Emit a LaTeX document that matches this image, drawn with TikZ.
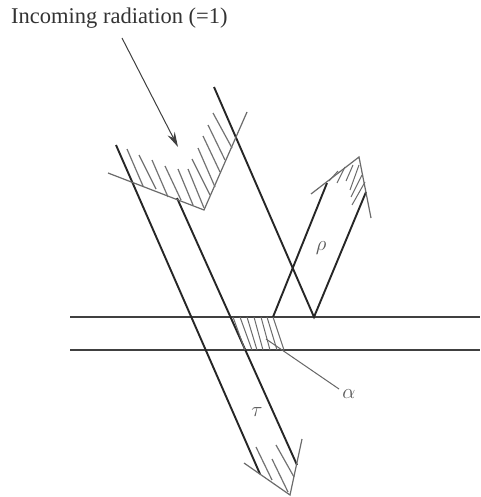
\documentclass[tikz,border=0pt]{standalone}
\usepackage{fontspec}
\setmainfont{Liberation Serif}
\usetikzlibrary{arrows.meta}
\tikzset{
  beam/.style={line width=1.9pt,color=black!85},
  plate/.style={line width=1.9pt,color=black!75},
  front/.style={line width=1.2pt,color=black!58},
  hatch/.style={line width=1.2pt,color=black!55},
  finehatch/.style={line width=1pt,color=black!58},
  sym/.style={inner sep=0pt,font=\fontsize{21}{21}\selectfont,color=black!65}
}
\begin{document}
\begin{tikzpicture}[x=1pt,y=-1pt]
\useasboundingbox (0,0) rectangle (480,497);
\fill[white] (0,0) rectangle (480,497);
% plate
\draw[plate] (70,317) -- (480,317);
\draw[plate] (70,350) -- (480,350);
% beams
\coordinate (a0) at (116,145); \coordinate (a1) at (260,474);
\coordinate (b0) at (177,198); \coordinate (b1) at (297,465);
\coordinate (c0) at (214,87);  \coordinate (c1) at (314,317);
\coordinate (d0) at (273,317); \coordinate (d1) at (327,183);
\coordinate (e1) at (366,192);
\draw[beam] (a0) -- (a1);
\draw[beam] (b0) -- (b1);
\draw[beam] (c0) -- (c1) -- (e1);
\draw[beam] (d0) -- (d1);
% incident wave front
\coordinate (v1) at (108,173); \coordinate (v2) at (204,210); \coordinate (v3) at (247,112);
\draw[front] (v1) -- (v2) -- (v3);
\foreach \xa/\ya/\xb/\yb in {
 127/149/143/186, 139/155/156/189, 152/160/168/197, 165/166/181/200, 178/169/193/205,
 188/169/204/208, 192/159/210/195, 198/148/215/187, 203/136/220/172, 208/125/225/160, 213/113/232/148}
  \draw[hatch] (\xa,\ya) -- (\xb,\yb);
% incoming arrow
\coordinate (i0) at (122,38); \coordinate (i1) at (178,147);
\draw[line width=1pt,color=black!75,-{Stealth[length=15pt,width=8pt]}] (i0) -- (i1);
% reflected wave front
\coordinate (r1) at (311,194); \coordinate (r2) at (359,157); \coordinate (r3) at (371,218);
\draw[front] (r1) -- (r2) -- (r3);
\foreach \xa/\ya/\xb/\yb in {
 329/181/338/171, 337/183/345/167, 346/181/353/165, 350/190/359/165, 351/197/362/175, 352/205/365/182}
  \draw[finehatch] (\xa,\ya) -- (\xb,\yb);
% absorbed hatching
\foreach \xa/\xb in {233/245,240/252,247/257,254/263,261/270,267/277,273/284}
  \draw[finehatch] (\xa,317) -- (\xb,350);
\coordinate (l0) at (266,339); \coordinate (l1) at (339,389);
\draw[line width=1pt,color=black!60] (l0) -- (l1);
% transmitted wave front
\coordinate (t1) at (244,463); \coordinate (t2) at (290,495); \coordinate (t3) at (302,439);
\draw[front] (t1) -- (t2) -- (t3);
\foreach \xa/\ya/\xb/\yb in {256/447/272/480, 272/459/288/492, 276/445/294/477}
  \draw[hatch] (\xa,\ya) -- (\xb,\yb);
% labels
\node[anchor=base west,inner sep=0pt,font=\fontsize{22.5}{22.5}\selectfont,color=black!80] (title) at (11,24) {Incoming radiation (=1)};
\node[sym] (rho) at (321,248) {$\rho$};
\node[sym] (tau) at (257,412) {$\tau$};
\node[sym] (alpha) at (349,394) {$\alpha$};
\end{tikzpicture}
\end{document}
